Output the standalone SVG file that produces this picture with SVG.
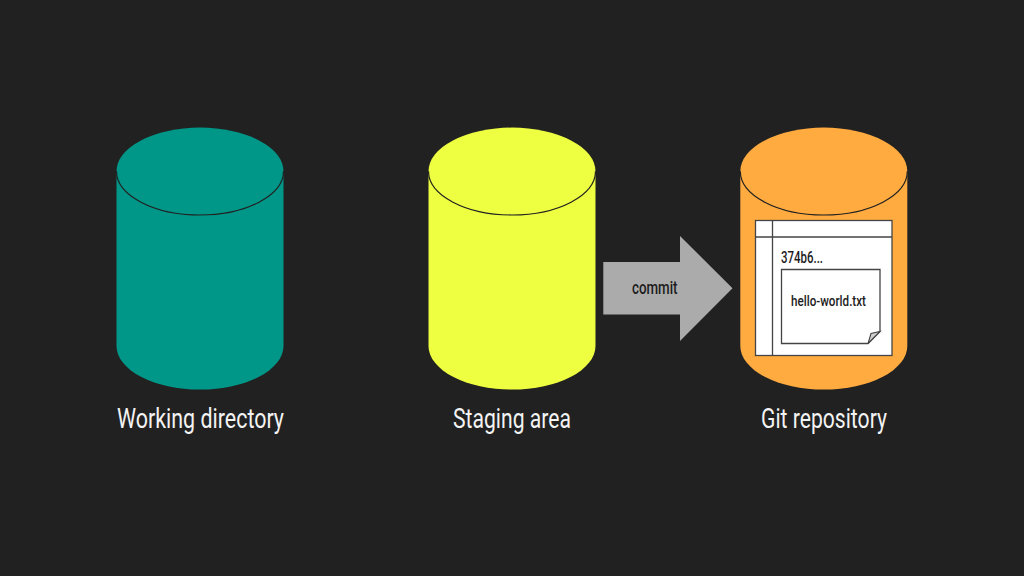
<svg xmlns="http://www.w3.org/2000/svg" width="1024" height="576" viewBox="0 0 1024 576">
  <style>
    .rim { fill: none; stroke: #212121; stroke-width: 1.2; }
    .line { fill: #fff; stroke: #444; stroke-width: 1.3; }
    text { font-family: "Roboto", "Liberation Sans", sans-serif; }
    .label { fill: #f3f3f3; font-size: 28px; text-anchor: middle; }
    .dark { fill: #1c1c1c; font-weight: 500; }
  </style>
  <defs>
    <path id="cyl" d="M0 44 A83.5 43.7 0 0 1 167 44 V218.6 A83.5 43.7 0 0 1 0 218.6 Z"/>
    <path id="rim" class="rim" d="M0 44 A83.5 43.7 0 0 0 167 44"/>
  </defs>
  <rect width="1024" height="576" fill="#212121"/>
  <g id="working-directory">
    <use href="#cyl" x="116.5" y="127.3" fill="#009688"/>
    <use href="#rim" x="116.5" y="127.3"/>
    <text class="label" x="200.5" y="428" textLength="167" lengthAdjust="spacingAndGlyphs">Working directory</text>
  </g>
  <g id="staging-area">
    <use href="#cyl" x="428.5" y="127.3" fill="#eeff41"/>
    <use href="#rim" x="428.5" y="127.3"/>
    <text class="label" x="512" y="428" textLength="118" lengthAdjust="spacingAndGlyphs">Staging area</text>
  </g>
  <g id="git-repository">
    <use href="#cyl" x="740.3" y="127.3" fill="#ffab40"/>
    <use href="#rim" x="740.3" y="127.3"/>
    <text class="label" x="824" y="428" textLength="126" lengthAdjust="spacingAndGlyphs">Git repository</text>
  </g>
  <g id="commit-tree">
    <rect class="line" x="755.5" y="220.5" width="136.5" height="135"/>
    <path class="line" fill="none" d="M772.5 220.5 V355.5 M755.5 237 H892"/>
    <text class="dark" x="781" y="263" font-size="17" textLength="42" lengthAdjust="spacingAndGlyphs">374b6...</text>
  </g>
  <g id="hello-world-file">
    <path class="line" d="M781.5 269.5 H880 V331.5 L868 343.5 H781.5 Z"/>
    <path d="M868 343.5 L871 333.5 L880 331.5 Z" fill="#cfcfcf" stroke="#444" stroke-width="1.1"/>
    <text class="dark" x="791" y="306" font-size="15" textLength="75" lengthAdjust="spacingAndGlyphs">hello-world.txt</text>
  </g>
  <g id="connectors">
    <path id="commit-arrow" d="M603.3 262 H680 V236 L732.5 288.2 L680 341 V314.5 H603.3 Z" fill="#ababab"/>
    <text class="dark" x="632" y="294" font-size="18" textLength="45.5" lengthAdjust="spacingAndGlyphs">commit</text>
  </g>
</svg>
